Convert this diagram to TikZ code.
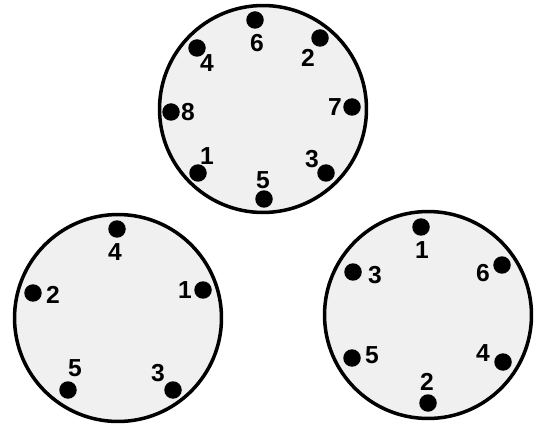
\documentclass[tikz,border=0pt]{standalone}
\usepackage{fontspec}
\setmainfont{Liberation Sans}
\usepackage{tikz}
\usetikzlibrary{positioning}

\begin{document}
\begin{tikzpicture}[
  x=0.02cm, y=-0.02cm,
  plate/.style={circle, draw, line width=2pt, fill=black!6,
    minimum size=4.14cm, inner sep=0pt},
  contact/.style={circle, fill=black, minimum size=0.35cm, inner sep=0pt},
  num/.style={inner sep=0pt, font=\fontsize{14}{16}\selectfont\bfseries}
]
  \useasboundingbox (0,0) rectangle (540,425);
  % upper plug, eight contacts
  \node[plate] (P8) at (263,109) {};
  \node[contact] (a6) at (255,20) {};  \node[num] (n6) at (257,43) {6};
  \node[contact] (a2) at (320,38) {};  \node[num] (n2) at (308,58) {2};
  \node[contact] (a4) at (197,48) {};  \node[num] (n4) at (207,63) {4};
  \node[contact] (a8) at (171,112) {}; \node[num] (n8) at (188,112) {8};
  \node[contact] (a7) at (352,107) {}; \node[num] (n7) at (335,107) {7};
  \node[contact] (a1) at (198,173) {}; \node[num] (n1) at (207,156) {1};
  \node[contact] (a3) at (326,173) {}; \node[num] (n3) at (312,159) {3};
  \node[contact] (a5) at (264,199) {}; \node[num] (n5) at (263,180) {5};
  %
  % lower left plug, five contacts
  \node[plate] (P5) at (118,318) {};
  \node[contact] (b4) at (117,229) {}; \node[num] (m4) at (115,252) {4};
  \node[contact] (b2) at (33,293) {};  \node[num] (m2) at (53,295) {2};
  \node[contact] (b1) at (203,290) {}; \node[num] (m1) at (185,290) {1};
  \node[contact] (b5) at (68,390) {};  \node[num] (m5) at (75,368) {5};
  \node[contact] (b3) at (173,390) {}; \node[num] (m3) at (158,373) {3};
  %
  % lower right plug, six contacts
  \node[plate] (P6) at (428,315) {};
  \node[contact] (c1) at (421,227) {}; \node[num] (k1) at (422,250) {1};
  \node[contact] (c3) at (353,272) {}; \node[num] (k3) at (375,275) {3};
  \node[contact] (c6) at (502,265) {}; \node[num] (k6) at (483,273) {6};
  \node[contact] (c5) at (352,358) {}; \node[num] (k5) at (372,355) {5};
  \node[contact] (c4) at (503,362) {}; \node[num] (k4) at (483,353) {4};
  \node[contact] (c2) at (428,403) {}; \node[num] (k2) at (427,382) {2};
\end{tikzpicture}
\end{document}
